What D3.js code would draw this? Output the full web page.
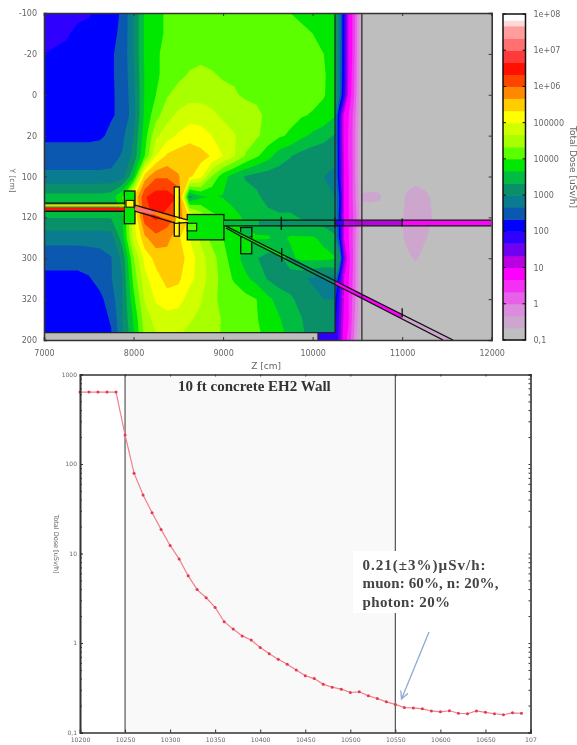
<!DOCTYPE html>
<html>
<head>
<meta charset="utf-8">
<script src="https://cdn.jsdelivr.net/npm/d3@7"></script>
<style>
body { margin: 0; background: #fff; }
svg { display: block; filter: blur(0.55px); }
text { font-family: "DejaVu Sans", sans-serif; fill: #666; }
.axis path, .axis line { stroke: #333; }
.axis text { font-family: "DejaVu Sans", sans-serif; fill: #666; }
.note { font-family: "Liberation Serif", serif; fill: #444; }
</style>
</head>
<body>
<div id="chart"></div>
<script>
// colour bands of the dose map, log10 of the dose, third of a decade each
var bandStart = [-1, -0.67, -0.33, 0, 0.33, 0.67, 1, 1.33, 1.67, 2, 2.33, 2.67, 3, 3.33, 3.67, 4, 4.33, 4.67, 5, 5.33, 5.67, 6, 6.33, 6.67, 7, 7.33, 7.67, 7.83];
var bandColors = ['#bebebe', '#cda6cd', '#dc8cdc', '#e860e8', '#f530f5', '#ff00ff', '#b800e0', '#7000f0', '#3000ff', '#0000ff',
    '#0a58b0', '#0a7c90', '#0a9068', '#00bd42', '#00e800', '#5cff00', '#a8ff00', '#d0ff00', '#ffff00', '#ffcc00', '#ff8800',
    '#ff4400', '#ff1000', '#ff3a3a', '#ff7070', '#ff9c9c', '#ffd8d8', '#ffffff'];

// dose map, log10 dose, in front of the wall. columns every 125 cm from 7000, rows every 10 from -40
var mapZ0 = 7000, mapDz = 125, mapY0 = -40, mapDy = 10;
var doseMap = [
    [1.9,1.9,1.9,1.9,1.95,2.1,2.2,2.38,3.0,3.72,3.9,4.05,4.15,4.2,4.2,4.2,4.2,4.2,4.2,4.15,4.1,4.0,4.0,3.95,3.9,3.9,3.85],
    [1.9,1.9,1.95,2.1,2.15,2.2,2.25,2.4,3.0,3.72,3.9,4.05,4.2,4.2,4.25,4.25,4.25,4.25,4.25,4.2,4.2,4.15,4.1,4.05,4.0,3.95,3.9],
    [2.0,2.05,2.1,2.15,2.2,2.25,2.3,2.42,3.0,3.72,3.95,4.1,4.2,4.25,4.25,4.25,4.25,4.25,4.25,4.25,4.2,4.2,4.15,4.1,4.05,4.0,3.9],
    [2.05,2.1,2.15,2.2,2.2,2.25,2.3,2.42,2.95,3.7,3.95,4.1,4.25,4.35,4.4,4.35,4.3,4.3,4.3,4.25,4.25,4.25,4.2,4.15,4.1,4.02,3.9],
    [2.1,2.15,2.2,2.2,2.2,2.25,2.3,2.4,2.9,3.7,4.0,4.3,4.45,4.55,4.55,4.5,4.4,4.35,4.3,4.3,4.25,4.25,4.2,4.15,4.1,4.02,3.85],
    [2.15,2.2,2.2,2.2,2.2,2.25,2.3,2.4,2.85,3.75,4.2,4.55,4.75,4.85,4.85,4.75,4.6,4.5,4.42,4.36,4.3,4.25,4.1,4.03,3.97,3.9,3.7],
    [2.25,2.25,2.25,2.25,2.25,2.28,2.4,2.6,3.0,3.85,4.6,4.85,5.05,5.2,5.15,5.0,4.85,4.7,4.5,4.38,4.2,4.05,3.95,3.75,3.6,3.45,3.3],
    [2.5,2.5,2.5,2.5,2.5,2.5,2.55,2.7,3.1,4.0,5.0,5.4,5.5,5.55,5.45,5.3,5.0,4.7,4.3,4.05,3.8,3.5,3.35,3.2,3.1,3.1,3.05],
    [2.75,2.75,2.75,2.75,2.75,2.75,2.75,2.85,3.6,5.5,5.95,5.95,5.7,5.4,5.1,4.3,3.8,3.5,3.3,3.2,3.15,3.15,3.15,3.1,3.05,3.0,2.95],
    [3.45,3.45,3.45,3.45,3.45,3.45,3.5,4.0,5.3,6.3,6.5,6.5,6.3,3.2,3.6,3.7,3.65,3.5,3.45,3.4,3.2,3.1,3.1,3.05,3.05,3.05,3.0],
    [3.35,3.35,3.35,3.35,3.35,3.35,3.35,3.6,4.9,6.2,6.4,6.2,5.9,5.3,4.6,4.1,4.0,3.8,3.6,3.5,3.45,3.4,3.4,3.3,3.2,3.1,3.0],
    [2.8,2.8,2.8,2.8,2.8,2.8,2.85,3.5,4.8,5.6,5.9,5.8,5.4,5.0,4.6,4.2,4.0,3.9,3.75,3.7,3.7,3.6,3.7,3.7,3.7,3.6,3.4],
    [2.45,2.45,2.45,2.45,2.5,2.55,2.65,3.1,4.3,5.1,5.45,5.5,5.5,5.2,4.8,4.5,4.1,3.85,3.5,3.35,3.2,3.2,3.6,3.75,3.75,3.75,3.7],
    [2.25,2.25,2.25,2.25,2.3,2.45,2.65,3.0,4.1,4.9,5.2,5.45,5.4,5.1,4.85,4.5,4.2,3.95,3.75,3.55,3.3,3.15,3.1,3.05,2.95,2.8,2.9],
    [2.15,2.15,2.15,2.15,2.2,2.25,2.5,3.0,3.9,4.7,5.05,5.2,5.15,4.85,4.7,4.4,4.25,4.2,4.1,4.0,3.75,3.55,3.4,3.2,3.1,3.0,3.0],
    [2.15,2.15,2.15,2.15,2.2,2.25,2.35,3.0,3.7,4.5,4.8,4.85,4.8,4.7,4.6,4.45,4.3,4.2,4.1,4.02,3.85,3.7,3.5,3.35,3.1,3.05,3.05],
    [2.1,2.1,2.1,2.15,2.2,2.2,2.3,2.9,3.6,4.4,4.6,4.7,4.65,4.55,4.5,4.4,4.3,4.2,4.1,4.05,3.95,3.8,3.6,3.4,3.2,3.05,3.05]
];

// inside the wall, columns every 50 cm from 10250
var wallZ0 = 10250, wallDz = 50;
var doseWall = [
    [3.3,2.9,2.0,1.0,0.6,-0.1,-0.7],
    [3.3,2.9,2.0,1.0,0.6,-0.1,-0.7],
    [3.3,2.85,2.0,1.0,0.6,-0.1,-0.7],
    [3.3,2.8,2.0,1.0,0.55,-0.1,-0.75],
    [3.3,2.8,1.9,0.95,0.5,-0.15,-0.75],
    [3.0,1.9,0.9,0.7,0.3,-0.2,-0.8],
    [3.0,1.85,0.9,0.65,0.3,-0.25,-0.8],
    [3.0,1.9,0.95,0.65,0.3,-0.25,-0.8],
    [3.0,1.9,1.0,0.7,0.3,-0.3,-0.8],
    [3.0,2.3,1.0,0.7,0.3,-0.2,-0.7],
    [3.0,2.2,1.0,0.7,0.35,-0.1,-0.7],
    [3.0,2.2,1.0,0.7,0.3,-0.2,-0.7],
    [3.0,3.2,1.5,0.8,0.35,-0.25,-0.8],
    [3.0,1.9,1.0,0.7,0.3,-0.2,-0.75],
    [2.4,1.7,1.0,0.7,0.25,-0.2,-0.8],
    [2.1,1.6,0.9,0.7,0.2,-0.3,-0.8],
    [2.0,1.5,0.8,0.6,0.1,-0.5,-0.85]
];

// faint halo behind the wall, columns every 100 cm from 10550, rows every 10 from 30
var haloZ0 = 10550, haloDz = 100, haloY0 = 30;
var doseHalo = [
    [-1,-1,-1,-1,-1,-1,-1,-1,-1,-1,-1],
    [-1,-1,-1,-1,-1,-0.85,-0.8,-0.9,-1,-1,-1],
    [-0.6,-0.55,-0.6,-1,-1,-0.6,-0.5,-0.55,-0.75,-1,-1],
    [-0.9,-1,-1,-1,-0.85,-0.55,-0.45,-0.5,-0.7,-1,-1],
    [-1,-1,-1,-1,-0.9,-0.55,-0.5,-0.6,-0.85,-1,-1],
    [-1,-1,-0.8,-1,-1,-0.8,-0.6,-0.85,-1,-1,-1],
    [-1,-1,-1,-1,-1,-1,-1,-1,-1,-1,-1]
];

// beamline inside: [[z,y],[z,y]...] and the log10 dose along it
var beamSegments = [
    {pts: [[7000,54.2],[7900,54.2]], dose: 5.4, w: 2},
    {pts: [[7000,55.9],[7900,55.9]], dose: 6.4, w: 3},
    {pts: [[8016,55.6],[8230,57.8]], dose: 7.3, w: 4},
    {pts: [[8230,57.8],[8474,61.2]], dose: 5.7, w: 4},
    {pts: [[8474,61.2],[8608,62]], dose: 5.3, w: 3},
    {pts: [[9010,62.8],[9400,62.8]], dose: 3.55, w: 5},
    {pts: [[9400,62.8],[10250,62.8]], dose: 3.1, w: 5},
    {pts: [[10250,62.8],[10350,62.8]], dose: 1.9, w: 5},
    {pts: [[10350,62.8],[11000,62.8]], dose: 1.1, w: 5},
    {pts: [[11000,62.8],[12000,62.8]], dose: 0.7, w: 5},
    {pts: [[9033,64.7],[9700,79.6]], dose: 3.7, w: 4},
    {pts: [[9700,79.6],[10250,91.9]], dose: 3.1, w: 4},
    {pts: [[10250,91.9],[11000,108.6]], dose: 0.7, w: 4},
    {pts: [[11000,108.6],[11512,120]], dose: -0.4, w: 4}
];

// outlines of the beamline parts
var boxes = [
    {z0: 7897, z1: 8016, y0: 47.1, y1: 63.1, dose: 3.9},
    {z0: 8455, z1: 8511, y0: 45.1, y1: 69.2, dose: 5.3},
    {z0: 8600, z1: 9010, y0: 58.6, y1: 71, dose: 3.75},
    {z0: 9197, z1: 9320, y0: 65, y1: 77.8, dose: 3.75}
];
var innerBoxes = [
    {z0: 7916, z1: 8005, y0: 51.7, y1: 55, dose: 5.3},
    {z0: 8600, z1: 8705, y0: 62.9, y1: 66.6, dose: 4.3},
    {z0: 9197, z1: 9320, y0: 65, y1: 69.6, dose: 3.6}
];
var beamOutlines = [
    [[7000,53],[7900,53]],
    [[7000,57],[7900,57]],
    [[8016,54],[8608,61.4]],
    [[8016,57],[8474,62.9],[8608,62.4]],
    [[9010,61.3],[12000,61.3]],
    [[9010,64.2],[12000,64.2]],
    [[9033,64.3],[11568,120]],
    [[9033,65.2],[9189,69],[11457,120]]
];
var beamTicks = [
    [[9650,59.7],[9650,66.2]],
    [[9655,75],[9655,81.7]],
    [[11000,104.5],[11000,109]],
    [[11000,60.5],[11000,64.5]],
    [[10250,60],[10250,65]]
];

// black lines of the geometry
var floorY = 116.4, floorZ = 10060, wallFront = 10250, wallBack = 10550;

// ticks of the top panel
var topXTicks = [7000, 8000, 9000, 10000, 11000, 12000];
var topYTicks = [-40, -20, 0, 20, 40, 60, 80, 100, 120];
var topYLabels = ['-100', '-20', '0', '20', '100', '120', '300', '320', '200'];
var barTicks = [1e8, 1e7, 1e6, 1e5, 1e4, 1e3, 100, 10, 1, 0.1];
var barLabels = ['1e+08', '1e+07', '1e+06', '100000', '10000', '1000', '100', '10', '1', '0,1'];

// depth profile along the wall
var profileZ = [10200,10210,10220,10230,10240,10250,10260,10270,10280,10290,10300,10310,10320,10330,10340,10350,10360,10370,10380,10390,
    10400,10410,10420,10430,10440,10450,10460,10470,10480,10490,10500,10510,10520,10530,10540,10550,10560,10570,10580,10590,
    10600,10610,10620,10630,10640,10650,10660,10670,10680,10690];
var profileDose = [637,637,637,637,637,211,79,45,28.6,18.6,12.3,8.7,5.65,3.95,3.2,2.5,1.73,1.43,1.2,1.08,
    0.89,0.76,0.66,0.58,0.5,0.43,0.40,0.345,0.32,0.305,0.28,0.285,0.257,0.24,0.22,0.206,0.19,0.188,0.184,0.174,
    0.17,0.175,0.164,0.162,0.174,0.168,0.162,0.158,0.166,0.164];
var profileXTicks = [10200,10250,10300,10350,10400,10450,10500,10550,10600,10650,10700];
var profileXLabels = ['10200','10250','10300','10350','10400','10450','10500','10550','10600','10650','107'];
var profileYTicks = [1000,100,10,1,0.1];
var profileYLabels = ['1000','100','10','1','0,1'];
var noteLines = ['0.21(\u00b13%)\u00b5Sv/h:', 'muon: 60%, n: 20%,', 'photon: 20%'];

var svg = d3.select('#chart').append('svg').attr('width', 577).attr('height', 745);

//TOP PANEL
var x1 = d3.scaleLinear().domain([7000, 12000]).range([44, 491.7]);
var y1 = d3.scaleLinear().domain([-40, 120]).range([13, 340]);
var barY = d3.scaleLog().domain([0.1, 1e8]).range([340, 14]);

function bandColor(v) {
    var i = d3.bisectRight(bandStart, v) - 1;
    return bandColors[Math.max(i, 0)];
}

svg.append('clipPath').attr('id', 'mapClip').append('rect')
    .attr('x', x1(7000)).attr('y', y1(-40))
    .attr('width', x1(wallFront) - x1(7000)).attr('height', y1(floorY) - y1(-40));
svg.append('clipPath').attr('id', 'wallClip').append('rect')
    .attr('x', x1(wallFront)).attr('y', y1(-40))
    .attr('width', x1(wallBack) - x1(wallFront)).attr('height', y1(120) - y1(-40));
svg.append('clipPath').attr('id', 'panelClip').append('rect')
    .attr('x', x1(7000)).attr('y', y1(-40))
    .attr('width', x1(12000) - x1(7000)).attr('height', y1(120) - y1(-40));

// grey background and the strip under the floor
svg.append('rect')
    .attr('x', x1(7000)).attr('y', y1(-40))
    .attr('width', x1(12000) - x1(7000)).attr('height', y1(120) - y1(-40))
    .attr('fill', bandColors[0]);
svg.append('rect')
    .attr('x', x1(floorZ)).attr('y', y1(floorY))
    .attr('width', x1(wallFront) - x1(floorZ)).attr('height', y1(120) - y1(floorY))
    .attr('fill', bandColor(1.8));

// one filled contour per colour band
function drawGrid(grid, z0, dz, yStart, dy, clip) {
    var n = grid[0].length, m = grid.length;
    var contours = d3.contours().size([n, m]).thresholds(bandStart)(grid.flat());
    var path = d3.geoPath(d3.geoTransform({
        point: function(gx, gy) {
            this.stream.point(x1(z0 + (gx - 0.5) * dz), y1(yStart + (gy - 0.5) * dy));
        }
    }));
    var g = svg.append('g');
    if (clip) g.attr('clip-path', 'url(#' + clip + ')');
    g.selectAll('path')
        .data(contours)
        .enter()
        .append('path')
        .attr('d', path)
        .attr('fill', function(d) { return d.value < -0.9 ? 'none' : bandColor(d.value); });
}

drawGrid(doseMap, mapZ0, mapDz, mapY0, mapDy, 'mapClip');
drawGrid(doseWall, wallZ0, wallDz, mapY0, mapDy, 'wallClip');
drawGrid(doseHalo, haloZ0, haloDz, haloY0, mapDy, 'panelClip');

// beamline
var geo = svg.append('g').attr('clip-path', 'url(#panelClip)');
var beamLine = d3.line()
    .x(function(d) { return x1(d[0]); })
    .y(function(d) { return y1(d[1]); });

function drawBoxes(list, width) {
    geo.selectAll(null)
        .data(list)
        .enter()
        .append('rect')
        .attr('x', function(d) { return x1(d.z0); })
        .attr('y', function(d) { return y1(d.y0); })
        .attr('width', function(d) { return x1(d.z1) - x1(d.z0); })
        .attr('height', function(d) { return y1(d.y1) - y1(d.y0); })
        .attr('fill', function(d) { return bandColor(d.dose); })
        .attr('stroke', '#111')
        .attr('stroke-width', width);
}
drawBoxes(boxes, 1.3);
drawBoxes(innerBoxes, 1.1);

geo.selectAll('.beam')
    .data(beamSegments)
    .enter()
    .append('path')
    .attr('class', 'beam')
    .attr('d', function(d) { return beamLine(d.pts); })
    .attr('fill', 'none')
    .attr('stroke', function(d) { return bandColor(d.dose); })
    .attr('stroke-width', function(d) { return d.w; });

geo.selectAll('.outline')
    .data(beamOutlines.concat(beamTicks))
    .enter()
    .append('path')
    .attr('class', 'outline')
    .attr('d', beamLine)
    .attr('fill', 'none')
    .attr('stroke', '#111')
    .attr('stroke-width', 1.3);

// floor and wall faces
var faces = [
    [[7000, floorY], [wallFront, floorY]],
    [[wallFront, -40], [wallFront, floorY]],
    [[wallBack, -40], [wallBack, 120]],
    [[floorZ, floorY], [floorZ, 120]]
];
svg.append('g').selectAll('path')
    .data(faces)
    .enter()
    .append('path')
    .attr('d', beamLine)
    .attr('stroke', '#222')
    .attr('stroke-width', 1.2);

// axes
svg.append('g').attr('class', 'axis')
    .attr('transform', 'translate(0,' + y1(120) + ')')
    .call(d3.axisBottom(x1).tickValues(topXTicks).tickSize(-3).tickPadding(10).tickFormat(d3.format('d')))
    .style('font-size', '8px');
svg.append('g').attr('class', 'axis')
    .attr('transform', 'translate(0,' + y1(-40) + ')')
    .call(d3.axisTop(x1).tickValues(topXTicks).tickSize(-3).tickFormat(''));
svg.append('g').attr('class', 'axis')
    .attr('transform', 'translate(' + x1(7000) + ',0)')
    .call(d3.axisLeft(y1).tickValues(topYTicks).tickSize(-3).tickPadding(7)
        .tickFormat(function(d, i) { return topYLabels[i]; }))
    .style('font-size', '8px');
svg.append('g').attr('class', 'axis')
    .attr('transform', 'translate(' + x1(12000) + ',0)')
    .call(d3.axisRight(y1).tickValues(topYTicks).tickSize(-3).tickFormat(''));
svg.selectAll('.axis .domain').attr('stroke-width', 1.3);

svg.append('text').text('Z [cm]')
    .attr('x', x1(9480)).attr('y', 369)
    .attr('text-anchor', 'middle')
    .style('font-size', '9px');
svg.append('text').text('Y [cm]')
    .attr('transform', 'translate(10,' + y1(42) + ') rotate(90)')
    .attr('text-anchor', 'middle')
    .style('font-size', '7.5px');

// colour bar
var barG = svg.append('g');
var barBands = d3.range(bandStart.length);
function bandTop(i) {
    return barY(Math.pow(10, i + 1 < bandStart.length ? bandStart[i + 1] : 8));
}
barG.selectAll('rect')
    .data(barBands)
    .enter()
    .append('rect')
    .attr('x', 503).attr('width', 22.5)
    .attr('y', bandTop)
    .attr('height', function(i) { return barY(Math.pow(10, bandStart[i])) - bandTop(i) + 0.5; })
    .attr('fill', function(i) { return bandColors[i]; });
barG.append('rect')
    .attr('x', 503).attr('width', 22.5).attr('y', 14).attr('height', 326)
    .attr('fill', 'none').attr('stroke', '#111').attr('stroke-width', 1.5);
barG.selectAll('.barTick')
    .data(barTicks)
    .enter()
    .append('path')
    .attr('class', 'barTick')
    .attr('d', function(d) {
        var y = barY(d);
        return 'M503,' + y + 'h3M525.5,' + y + 'h-3';
    })
    .attr('stroke', '#111');
barG.selectAll('text')
    .data(barTicks)
    .enter()
    .append('text')
    .attr('x', 533.5)
    .attr('y', function(d) { return barY(d) + 3; })
    .text(function(d, i) { return barLabels[i]; })
    .style('font-size', '8px');
svg.append('text').text('Total Dose [uSv/h]')
    .attr('transform', 'translate(570,167) rotate(90)')
    .attr('text-anchor', 'middle')
    .style('font-size', '9px');

//BOTTOM PANEL
var x2 = d3.scaleLinear().domain([10200, 10700]).range([80, 530.5]);
var y2 = d3.scaleLog().domain([0.1, 1000]).range([732.5, 374.5]);

svg.append('rect')
    .attr('x', x2(10250)).attr('y', y2(1000))
    .attr('width', x2(10550) - x2(10250)).attr('height', y2(0.1) - y2(1000))
    .attr('fill', '#f9f9f9');

svg.selectAll('.wallFace')
    .data([10250, 10550])
    .enter()
    .append('line')
    .attr('class', 'wallFace')
    .attr('x1', function(d) { return x2(d); })
    .attr('x2', function(d) { return x2(d); })
    .attr('y1', y2(1000)).attr('y2', y2(0.1))
    .attr('stroke', '#555').attr('stroke-width', 1.2);

var profile = d3.range(profileZ.length);
var profileLine = d3.line()
    .x(function(i) { return x2(profileZ[i]); })
    .y(function(i) { return y2(profileDose[i]); });
svg.append('path')
    .attr('d', profileLine(profile))
    .attr('fill', 'none').attr('stroke', '#f0808c').attr('stroke-width', 1.2);
svg.selectAll('.dot')
    .data(profile)
    .enter()
    .append('circle')
    .attr('class', 'dot')
    .attr('cx', function(i) { return x2(profileZ[i]); })
    .attr('cy', function(i) { return y2(profileDose[i]); })
    .attr('r', 1.5)
    .attr('fill', '#e23a50');

var minorTicks = d3.range(-1, 3).reduce(function(a, e) {
    return a.concat(d3.range(1, 10).map(function(k) { return k * Math.pow(10, e); }));
}, []).concat([1000]);

function logTicks(g, side) {
    g.call((side < 0 ? d3.axisLeft(y2) : d3.axisRight(y2)).tickValues(minorTicks).tickSize(-2).tickFormat(''));
}
svg.append('g').attr('class', 'axis').attr('transform', 'translate(' + x2(10200) + ',0)').call(logTicks, -1);
svg.append('g').attr('class', 'axis').attr('transform', 'translate(' + x2(10700) + ',0)').call(logTicks, 1);
svg.append('g').attr('class', 'axis')
    .attr('transform', 'translate(' + x2(10200) + ',0)')
    .call(d3.axisLeft(y2).tickValues(profileYTicks).tickSize(-3).tickPadding(3)
        .tickFormat(function(d, i) { return profileYLabels[i]; }))
    .style('font-size', '6px');
svg.append('g').attr('class', 'axis')
    .attr('transform', 'translate(0,' + y2(0.1) + ')')
    .call(d3.axisBottom(x2).tickValues(profileXTicks).tickSize(-3).tickPadding(5)
        .tickFormat(function(d, i) { return profileXLabels[i]; }))
    .style('font-size', '6.2px');
svg.append('g').attr('class', 'axis')
    .attr('transform', 'translate(0,' + y2(1000) + ')')
    .call(d3.axisTop(x2).tickValues(profileXTicks).tickSize(-2).tickFormat(''));
svg.selectAll('.axis .domain').attr('stroke', '#444').attr('stroke-width', 1.6);

svg.append('text').text('Total Dose [uSv/h]')
    .attr('transform', 'translate(54,544) rotate(90)')
    .attr('text-anchor', 'middle')
    .style('font-size', '6.5px');

svg.append('text').text('10 ft concrete EH2 Wall')
    .attr('class', 'note')
    .attr('x', 178).attr('y', 391)
    .attr('font-weight', 'bold')
    .style('font-size', '15px').style('fill', '#333');

// note box and arrow
svg.append('rect').attr('x', 353).attr('y', 551).attr('width', 152).attr('height', 62).attr('fill', '#fff');
svg.selectAll('.noteLine')
    .data(noteLines)
    .enter()
    .append('text')
    .attr('class', 'note noteLine')
    .attr('x', 362.5)
    .attr('y', function(d, i) { return [569.5, 587.5, 606.5][i]; })
    .attr('textLength', function(d, i) { return [123, 136, 87.5][i]; })
    .attr('font-weight', 'bold')
    .style('font-size', '15px')
    .text(function(d) { return d; });

svg.append('defs').append('marker')
    .attr('id', 'tip').attr('markerWidth', 8).attr('markerHeight', 8)
    .attr('refX', 6).attr('refY', 3).attr('orient', 'auto')
    .append('path').attr('d', 'M0,0L6,3L0,6').attr('fill', 'none').attr('stroke', '#8fa9d0').attr('stroke-width', 1);
svg.append('line')
    .attr('x1', 429).attr('y1', 632).attr('x2', 401.5).attr('y2', 699)
    .attr('stroke', '#8fa9d0').attr('stroke-width', 1.3)
    .attr('marker-end', 'url(#tip)');
</script>
</body>
</html>
